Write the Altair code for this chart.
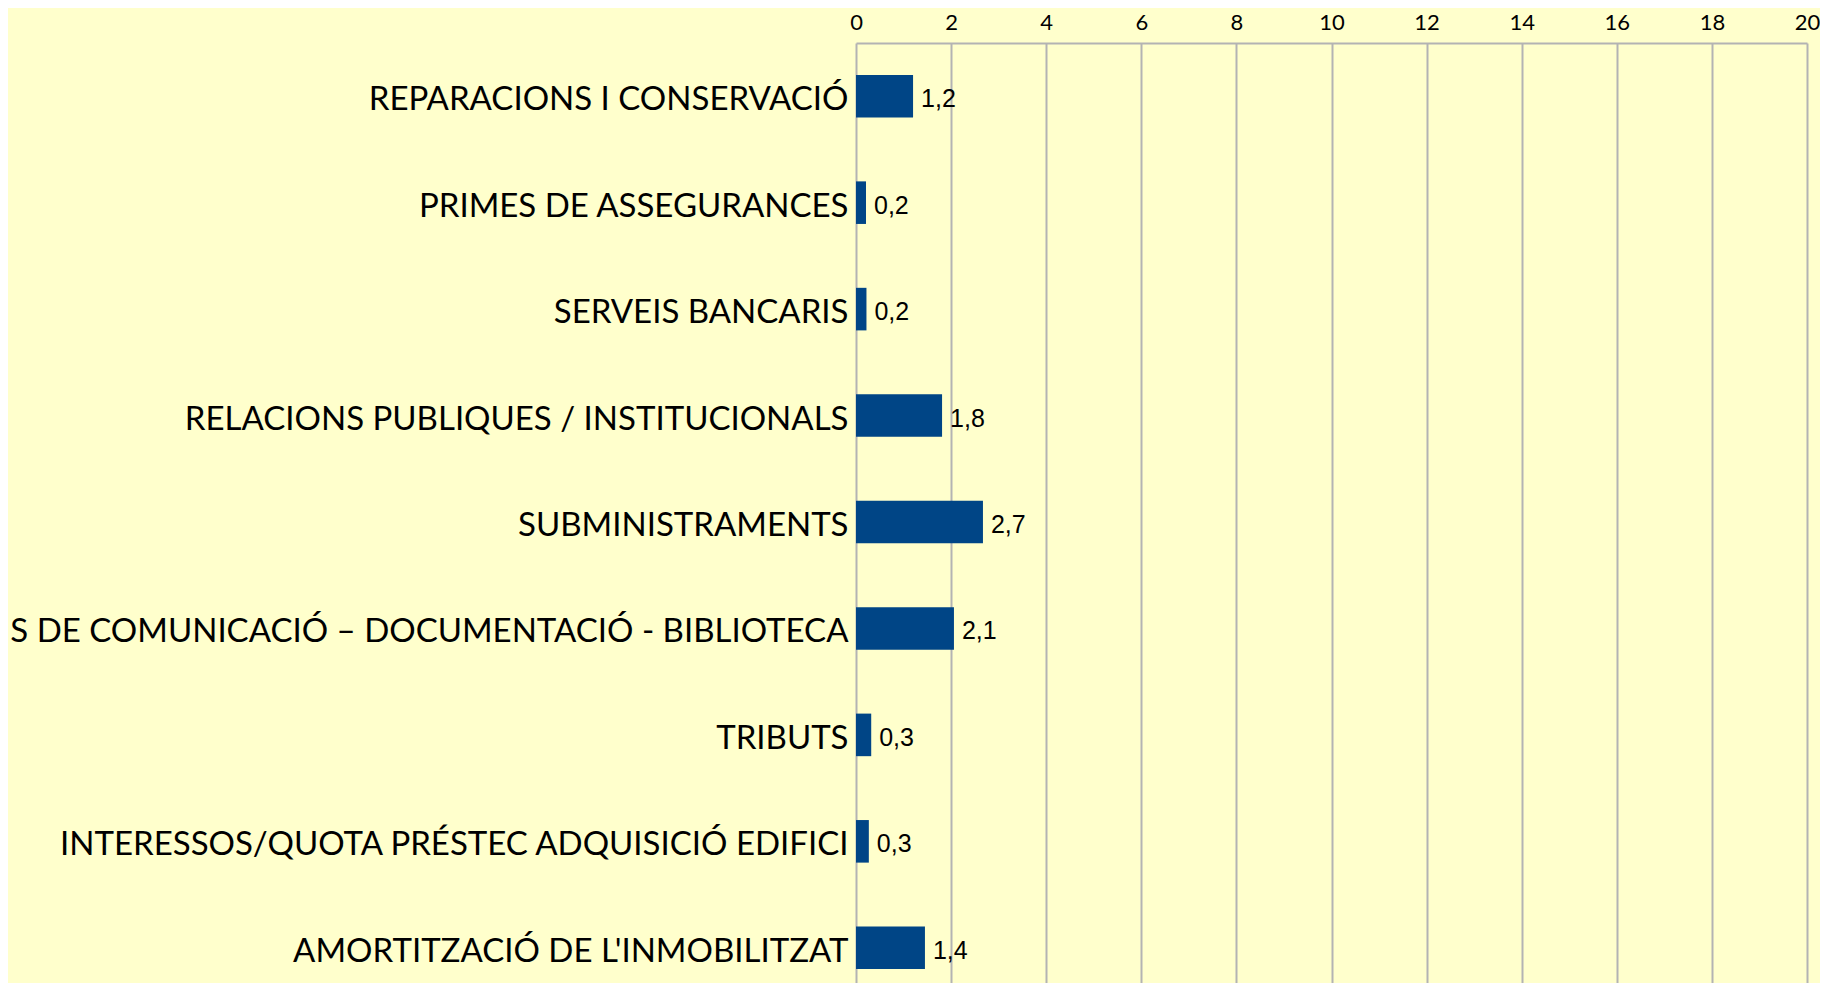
import altair as alt
import pandas as pd

categories = [
    "REPARACIONS I CONSERVACIÓ",
    "PRIMES DE ASSEGURANCES",
    "SERVEIS BANCARIS",
    "RELACIONS PUBLIQUES / INSTITUCIONALS",
    "SUBMINISTRAMENTS",
    "MITJANS DE COMUNICACIÓ – DOCUMENTACIÓ - BIBLIOTECA",
    "TRIBUTS",
    "INTERESSOS/QUOTA PRÉSTEC ADQUISICIÓ EDIFICI",
    "AMORTITZACIÓ DE L'INMOBILITZAT",
]
values = [1.2, 0.21, 0.22, 1.81, 2.67, 2.06, 0.32, 0.27, 1.45]
x_ticks = [0, 2, 4, 6, 8, 10, 12, 14, 16, 18, 20]

df = pd.DataFrame({"cat": categories, "val": values})

BG = "#FFFFCC"
GRID = "#b3b3b3"

y_enc = alt.Y(
    "cat:N",
    sort=categories,
    title=None,
    scale=alt.Scale(range=[0, 958], paddingInner=0.6, paddingOuter=0.3),
    axis=alt.Axis(
        domain=False,
        ticks=False,
        grid=False,
        labelFont="Lato",
        labelFontSize=33,
        labelColor="#000000",
        labelPadding=8,
        labelOffset=4,
        labelLimit=2000,
        labelAlign="right",
        labelBaseline="middle",
    ),
)

x_enc = alt.X(
    "val:Q",
    title=None,
    scale=alt.Scale(domain=[0, 20], nice=False, zero=True),
    axis=alt.Axis(
        orient="top",
        values=x_ticks,
        domain=True,
        domainColor=GRID,
        domainWidth=2,
        ticks=False,
        grid=True,
        gridColor=GRID,
        gridWidth=2,
        labelFont="Lato",
        labelFontSize=22,
        labelColor="#000000",
        labelPadding=9,
        labelFlush=False,
    ),
)

bars = alt.Chart(df).mark_bar(color="#004586").encode(y=y_enc, x=x_enc)

text = (
    alt.Chart(df)
    .transform_calculate(lab="replace(format(datum.val, '.1f'), '.', ',')")
    .mark_text(
        align="left",
        baseline="middle",
        dx=8,
        dy=3,
        font="Liberation Sans",
        fontSize=25,
        color="#000000",
    )
    .encode(y=alt.Y("cat:N", sort=categories), x="val:Q", text="lab:N")
)

chart = (
    alt.layer(bars, text)
    .properties(
        width=951,
        height=940,
        background=BG,
        padding={"left": 848, "top": 35, "right": 13, "bottom": 0},
        autosize=alt.AutoSizeParams(type="none"),
    )
    .configure_view(stroke=None)
)

chart.save("out.html", embed_options={"renderer": "svg", "actions": False})
